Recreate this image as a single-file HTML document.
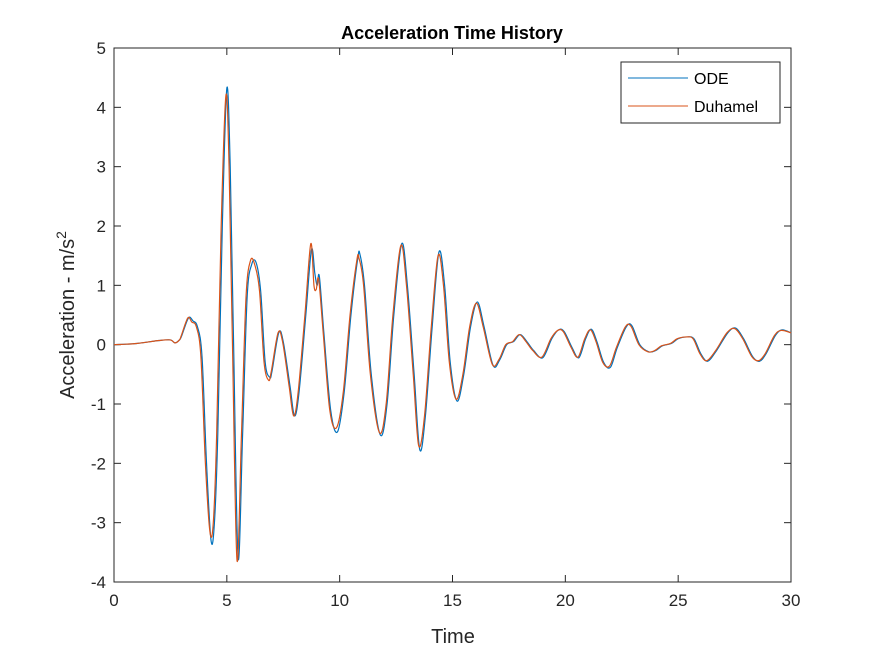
<!DOCTYPE html>
<html><head><meta charset="utf-8"><style>
body{margin:0;background:#fff}
svg{font-family:"Liberation Sans",Arial,sans-serif}
</style></head><body>
<svg id="chart" width="875" height="656" viewBox="0 0 875 656" xmlns="http://www.w3.org/2000/svg">
<rect x="0" y="0" width="875" height="656" fill="#fff"/>
<rect x="114" y="48" width="677" height="534" fill="#fff" stroke="#262626" stroke-width="1"/>
<g id="ticks"></g>
<g id="series"></g>
<text x="452" y="39" text-anchor="middle" font-size="18" font-weight="bold" fill="#000">Acceleration Time History</text>
<text x="453" y="643" text-anchor="middle" font-size="20" fill="#262626">Time</text>
<text transform="translate(74,315) rotate(-90)" text-anchor="middle" font-size="20" fill="#262626">Acceleration - m/s<tspan dy="-8" font-size="14">2</tspan></text>
<g>
<rect x="621" y="62" width="159" height="61" fill="#fff" stroke="#262626" stroke-width="1"/>
<line x1="628" y1="78" x2="688" y2="78" stroke="#0072BD" stroke-width="1"/>
<text x="694" y="84" font-size="16" fill="#000">ODE</text>
<line x1="628" y1="106" x2="688" y2="106" stroke="#D95319" stroke-width="1"/>
<text x="694" y="112" font-size="16" fill="#000">Duhamel</text>
</g>
</svg>
<script>
const xTicks=[0,5,10,15,20,25,30];
const yTicks=[-4,-3,-2,-1,0,1,2,3,4,5];
const odeTimes=[0,1,2,2.5,2.7,2.9,3.0,3.3,3.5,3.7,3.9,4.1,4.3,4.45,4.6,4.8,5.0,5.15,5.3,5.5,5.7,5.9,6.1,6.3,6.5,6.7,6.9,7.0,7.3,7.5,7.8,8.0,8.2,8.5,8.75,8.9,9.0,9.1,9.3,9.6,9.9,10.2,10.5,10.8,10.9,11.1,11.4,11.8,12.1,12.4,12.75,13.0,13.3,13.55,13.8,14.1,14.4,14.65,14.9,15.2,15.5,15.8,16.1,16.4,16.8,17.1,17.4,17.7,18.0,18.3,18.6,19.0,19.4,19.7,19.95,20.3,20.6,20.9,21.15,21.4,21.7,22.0,22.3,22.7,22.95,23.3,23.7,24.0,24.3,24.7,25.0,25.4,25.7,26.0,26.3,26.7,27.2,27.55,27.9,28.3,28.6,28.9,29.3,29.6,30];
const odeVals=[0,0.02,0.07,0.08,0.03,0.08,0.15,0.45,0.40,0.3,-0.2,-2.0,-3.3,-3.0,-1.5,2.0,4.32,3.0,0.0,-3.6,-1.5,0.8,1.35,1.38,0.9,-0.3,-0.55,-0.45,0.2,0.05,-0.7,-1.2,-0.8,0.5,1.6,1.2,1.0,1.15,0.2,-1.1,-1.47,-0.8,0.5,1.45,1.52,1.0,-0.5,-1.52,-1.0,0.5,1.7,1.0,-0.5,-1.77,-1.2,0.3,1.56,1.0,-0.3,-0.95,-0.5,0.3,0.72,0.3,-0.35,-0.25,0.0,0.05,0.17,0.05,-0.1,-0.22,0.1,0.25,0.22,-0.05,-0.22,0.1,0.26,0.05,-0.3,-0.38,-0.05,0.3,0.32,0.0,-0.12,-0.1,-0.02,0.02,0.1,0.13,0.1,-0.15,-0.28,-0.1,0.2,0.28,0.1,-0.2,-0.28,-0.15,0.15,0.25,0.2];
const duhTimes=[0,1,2,2.5,2.7,2.9,2.98,3.27,3.45,3.65,3.85,4.05,4.25,4.4,4.55,4.75,4.96,5.1,5.25,5.45,5.65,5.85,6.05,6.25,6.45,6.65,6.85,6.97,7.27,7.47,7.76,7.96,8.16,8.46,8.72,8.86,8.96,9.07,9.27,9.56,9.86,10.16,10.46,10.76,10.86,11.06,11.36,11.76,12.06,12.36,12.71,12.96,13.26,13.5,13.76,14.06,14.36,14.6,14.86,15.16,15.46,15.76,16.06,16.36,16.76,17.06,17.36,17.66,17.96,18.26,18.56,18.96,19.36,19.66,19.91,20.26,20.56,20.86,21.11,21.36,21.66,21.96,22.26,22.66,22.91,23.26,23.66,23.96,24.26,24.66,24.96,25.36,25.66,25.96,26.26,26.66,27.16,27.51,27.86,28.26,28.56,28.86,29.26,29.56,30];
const duhVals=[0,0.02,0.07,0.08,0.03,0.08,0.15,0.45,0.38,0.3,-0.2,-2.0,-3.15,-3.0,-1.5,2.0,4.2,3.0,0.0,-3.63,-1.5,0.8,1.42,1.33,0.9,-0.3,-0.6,-0.45,0.2,0.05,-0.7,-1.2,-0.8,0.5,1.7,1.0,0.93,1.1,0.2,-1.1,-1.4,-0.8,0.5,1.42,1.45,1.0,-0.5,-1.48,-1.0,0.5,1.67,1.0,-0.5,-1.7,-1.2,0.3,1.5,1.0,-0.3,-0.92,-0.5,0.3,0.7,0.3,-0.33,-0.25,0.0,0.05,0.17,0.05,-0.1,-0.21,0.1,0.24,0.22,-0.05,-0.21,0.1,0.25,0.05,-0.3,-0.36,-0.05,0.3,0.31,0.0,-0.12,-0.1,-0.02,0.02,0.1,0.13,0.1,-0.15,-0.27,-0.1,0.2,0.27,0.1,-0.2,-0.27,-0.15,0.15,0.24,0.2];
const X0=114,X1=791,Y0=582,Y1=48;
function xs(t){return X0+(t-0)/(30-0)*(X1-X0);}
function ys(v){return Y0-(v-(-4))/(5-(-4))*(Y0-Y1);}
const NS="http://www.w3.org/2000/svg";
const tg=document.getElementById('ticks');
xTicks.forEach(t=>{
  const l=document.createElementNS(NS,'line');
  
  
  l.setAttribute('x1',xs(t));l.setAttribute('x2',xs(t));l.setAttribute('y1',Y0);l.setAttribute('y2',Y0-7);
  l.setAttribute('stroke','#262626');tg.appendChild(l);
  const l2=document.createElementNS(NS,'line');
  
  
  l2.setAttribute('x1',xs(t));l2.setAttribute('x2',xs(t));l2.setAttribute('y1',Y1);l2.setAttribute('y2',Y1+7);
  l2.setAttribute('stroke','#262626');tg.appendChild(l2);
  const tx=document.createElementNS(NS,'text');
  
  
  tx.setAttribute('x',xs(t));tx.setAttribute('y',Y0+24);tx.setAttribute('text-anchor','middle');
  tx.setAttribute('font-size','17');tx.setAttribute('fill','#262626');tx.textContent=t;tg.appendChild(tx);
});
yTicks.forEach(v=>{
  const l=document.createElementNS(NS,'line');
  
  
  l.setAttribute('x1',X0);l.setAttribute('x2',X0+7);l.setAttribute('y1',ys(v));l.setAttribute('y2',ys(v));
  l.setAttribute('stroke','#262626');tg.appendChild(l);
  const l2=document.createElementNS(NS,'line');
  
  
  l2.setAttribute('x1',X1);l2.setAttribute('x2',X1-7);l2.setAttribute('y1',ys(v));l2.setAttribute('y2',ys(v));
  l2.setAttribute('stroke','#262626');tg.appendChild(l2);
  const tx=document.createElementNS(NS,'text');
  
  
  tx.setAttribute('x',X0-8);tx.setAttribute('y',ys(v)+6);tx.setAttribute('text-anchor','end');
  tx.setAttribute('font-size','17');tx.setAttribute('fill','#262626');tx.textContent=v;tg.appendChild(tx);
});
function pathFor(ts,vs){
  const p=ts.map((t,i)=>[xs(t),ys(vs[i])]);
  let d='M'+p[0][0]+','+p[0][1];
  for(let i=0;i<p.length-1;i++){
    const a=p[i-1]||p[i],b=p[i],c=p[i+1],e=p[i+2]||c;
    const c1x=b[0]+(c[0]-a[0])/6,c1y=b[1]+(c[1]-a[1])/6;
    const c2x=c[0]-(e[0]-b[0])/6,c2y=c[1]-(e[1]-b[1])/6;
    d+=' C'+c1x+','+c1y+' '+c2x+','+c2y+' '+c[0]+','+c[1];
  }
  return d;
}
const sg=document.getElementById('series');
const p1=document.createElementNS(NS,'path');


p1.setAttribute('d',pathFor(odeTimes,odeVals));p1.setAttribute('fill','none');p1.setAttribute('stroke','#0072BD');p1.setAttribute('stroke-width','1.2');
sg.appendChild(p1);
const p2=document.createElementNS(NS,'path');


p2.setAttribute('d',pathFor(duhTimes,duhVals));p2.setAttribute('fill','none');p2.setAttribute('stroke','#D95319');p2.setAttribute('stroke-width','1.2');
sg.appendChild(p2);
</script>
</body></html>
